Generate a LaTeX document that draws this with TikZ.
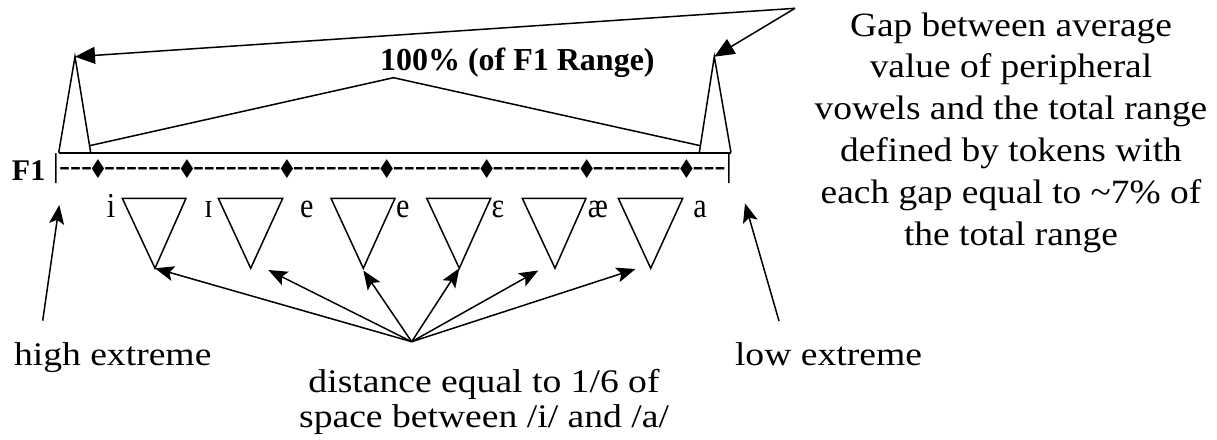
\documentclass[tikz,border=0pt]{standalone}
\usepackage{fontspec}
\setmainfont{Liberation Serif}
\newfontfamily\txtfont{Liberation Serif}[FakeStretch=1.1]
\newfontfamily\lowfont{Liberation Serif}[FakeStretch=1.14]
\newfontfamily\vowfont{Liberation Serif}[FakeStretch=0.86]
\newfontfamily\dmfont{DejaVu Sans}
\usetikzlibrary{arrows.meta,calc}
\newcommand\hy{\mbox{-}}
\newcommand\hyS{\hy\hy\hy\hy\hy\hy\hy}
\newcommand\hyE{\hy\hy\hy\hy\hy\hy\hy\hy}
\newcommand\dm{\makebox[12pt]{\raisebox{-2.5pt}{\scalebox{0.85}[1]{\dmfont\fontsize{26}{26}\selectfont ♦}}}}
\begin{document}
\begin{tikzpicture}[x=1pt,y=-1pt,line width=1.5pt,line join=miter,
  toparrow/.style={-{Triangle[length=20pt,width=17pt]}},
  botarrow/.style={-{Stealth[length=19pt,width=15pt,inset=4pt]}},
  every node/.style={inner sep=0pt,outer sep=0pt},
  vowel/.style={anchor=base,font=\vowfont\fontsize{35}{35}\selectfont},
  lowtext/.style={font=\lowfont\fontsize{33}{34.5}\selectfont}]
\useasboundingbox (0,0) rectangle (1217,439);

% text nodes
\node[anchor=base west,font=\bfseries\fontsize{30}{30}\selectfont] (F1) at (12,180) {F1};
\node[anchor=base west,font=\fontsize{33}{33}\selectfont] (scale) at (52.5,176)
  {|\hy\hy\hy\dm\hyS\dm\hyE\dm\hyE\dm\hyE\dm\hyE\dm\hyE\dm\hy\hy\hy|};
\node[anchor=base west,font=\bfseries\fontsize{32}{32}\selectfont] (range) at (380,70) {100\% (of F1 Range)};
\node[anchor=base,align=center,font=\txtfont\fontsize{34}{41.8}\selectfont] (gap) at (1011,245)
  {Gap between average\\value of peripheral\\vowels and the total range\\defined by tokens with\\each gap equal to \textasciitilde7\% of\\the total range};
\node[anchor=base west,lowtext] (high) at (14,365) {high extreme};
\node[anchor=base west,lowtext] (low) at (735,365) {low extreme};
\node[anchor=base,align=center,lowtext] (dist) at (484,427) {distance equal to 1/6 of\\space between /i/ and /a/};

% vowel labels
\node[vowel] (vi) at (111,217.3) {i};
\node[vowel] (vI) at (208.5,217.3) {ɪ};
\node[vowel] (ve1) at (306.7,217.3) {e};
\node[vowel] (ve2) at (402.7,217.3) {e};
\node[vowel] (veps) at (498,217.3) {ɛ};
\node[vowel] (vae) at (598,217.3) {æ};
\node[vowel] (va) at (700,217.3) {a};

% range frame
\coordinate (LA) at (75,56.7);
\coordinate (LB1) at (58.7,152.7);
\coordinate (LB2) at (90.7,152.7);
\coordinate (RA) at (714.3,56.7);
\coordinate (RB1) at (699.3,152.7);
\coordinate (RB2) at (731,152.7);
\coordinate (P) at (795,8.3);
\coordinate (M) at (393.5,77.7);
\draw (LB1) -- (LA) -- (LB2);
\draw (RB1) -- (RA) -- (RB2);
\draw[line width=2pt] (LB1) -- (RB2);
\draw ($(LA)!0.927!(LB2)$) coordinate (LC) -- (M) -- ($(RA)!0.927!(RB1)$) coordinate (RC);
\draw[toparrow] (P) -- (LA);
\draw[toparrow] (P) -- (RA);

% vowel distributions
\foreach \a/\b/\t/\n in {122.3/186/155/1,218.3/282.7/250.7/2,331/395/363.3/3,426.7/490.7/459.3/4,522.3/586/555/5,618.3/682.7/650.7/6}{
  \draw (\a,198.3) -- (\b,198.3) -- (\t,268.3) coordinate (tip\n) -- cycle;
}

% distance arrows
\coordinate (H) at (411.7,341.7);
\coordinate (a2) at (268.3,270);
\coordinate (a3) at (363.3,270.5);
\coordinate (a5) at (538.3,270.5);
\coordinate (a6) at (635.5,269);
\draw[botarrow] (H) -- (tip1);
\draw[botarrow] (H) -- (a2);
\draw[botarrow] (H) -- (a3);
\draw[botarrow] (H) -- (tip4);
\draw[botarrow] (H) -- (a5);
\draw[botarrow] (H) -- (a6);

% extreme arrows
\coordinate (hx) at (42.7,320.7);
\coordinate (hxt) at (59.3,205);
\coordinate (lx) at (779,321);
\coordinate (lxt) at (745,203.3);
\draw[botarrow] (hx) -- (hxt);
\draw[botarrow] (lx) -- (lxt);
\end{tikzpicture}
\end{document}
